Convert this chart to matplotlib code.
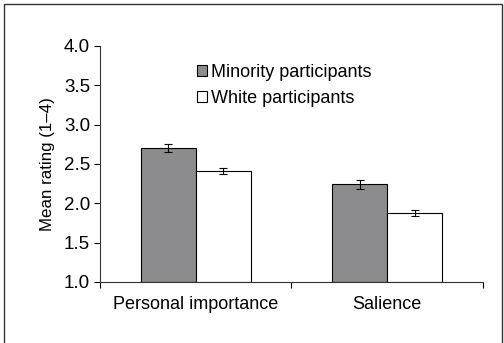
import matplotlib
matplotlib.use("Agg")
import matplotlib.pyplot as plt
import numpy as np
from matplotlib.patches import Rectangle

plt.rcParams['font.family'] = ['Liberation Sans', 'DejaVu Sans']

# data
categories = ["Personal importance", "Salience"]
groups = ["Minority participants", "White participants"]
minority = [2.70, 2.24]
white = [2.41, 1.88]
minority_err = [0.05, 0.06]
white_err = [0.043, 0.04]

fig = plt.figure(figsize=(5.04, 3.43), dpi=100)
# outer frame around the whole picture
fig.patches.append(Rectangle((4 / 504, -0.01), 498 / 504, 1 - 4 / 343 + 0.01,
                             transform=fig.transFigure, fill=False,
                             edgecolor="#333333", linewidth=1.0))

ax = fig.add_axes([0.198, 0.178, 0.76, 0.688])

x = np.arange(len(categories))
w = 0.287
ax.bar(x - w / 2, [m - 1 for m in minority], w, bottom=1, color="#8c8c8e",
       edgecolor="black", linewidth=0.8, label=groups[0])
ax.bar(x + w / 2, [v - 1 for v in white], w, bottom=1, color="white",
       edgecolor="black", linewidth=0.8, label=groups[1])
ax.errorbar(x - w / 2, minority, yerr=minority_err, fmt="none", ecolor="black",
            elinewidth=0.8, capsize=3, capthick=0.8)
ax.errorbar(x + w / 2, white, yerr=white_err, fmt="none", ecolor="black",
            elinewidth=0.8, capsize=3, capthick=0.8)

ax.set_xlim(-0.5, 1.5)
ax.set_ylim(1.0, 4.0)
ax.set_yticks(np.arange(1.0, 4.01, 0.5))
ax.set_yticklabels([f"{t:.1f}" for t in np.arange(1.0, 4.01, 0.5)], fontsize=13.5)
ax.set_xticks([-0.5, 0.5, 1.5])
ax.set_xticklabels([])
ax.set_xticks(x, minor=True)
ax.set_xticklabels(categories, minor=True, fontsize=13)
ax.tick_params(axis="x", which="minor", length=0, pad=10)
ax.tick_params(axis="x", which="major", direction="out", length=4, width=0.8)
ax.tick_params(axis="y", direction="out", length=4, width=0.8, pad=3)
for s in ["top", "right"]:
    ax.spines[s].set_visible(False)
for s in ["left", "bottom"]:
    ax.spines[s].set_linewidth(0.8)
    ax.spines[s].set_color("#333333")

ax.set_ylabel("Mean rating (1\u20134)", fontsize=12.2, labelpad=6)

fig.legend(loc="upper left", bbox_to_anchor=(197 / 504, 1 - 64 / 343),
           frameon=False, fontsize=13, handlelength=0.55, handleheight=0.55,
           handletextpad=0.25, labelspacing=0.5, borderpad=0, borderaxespad=0)

fig.savefig("out.png", dpi=100)
